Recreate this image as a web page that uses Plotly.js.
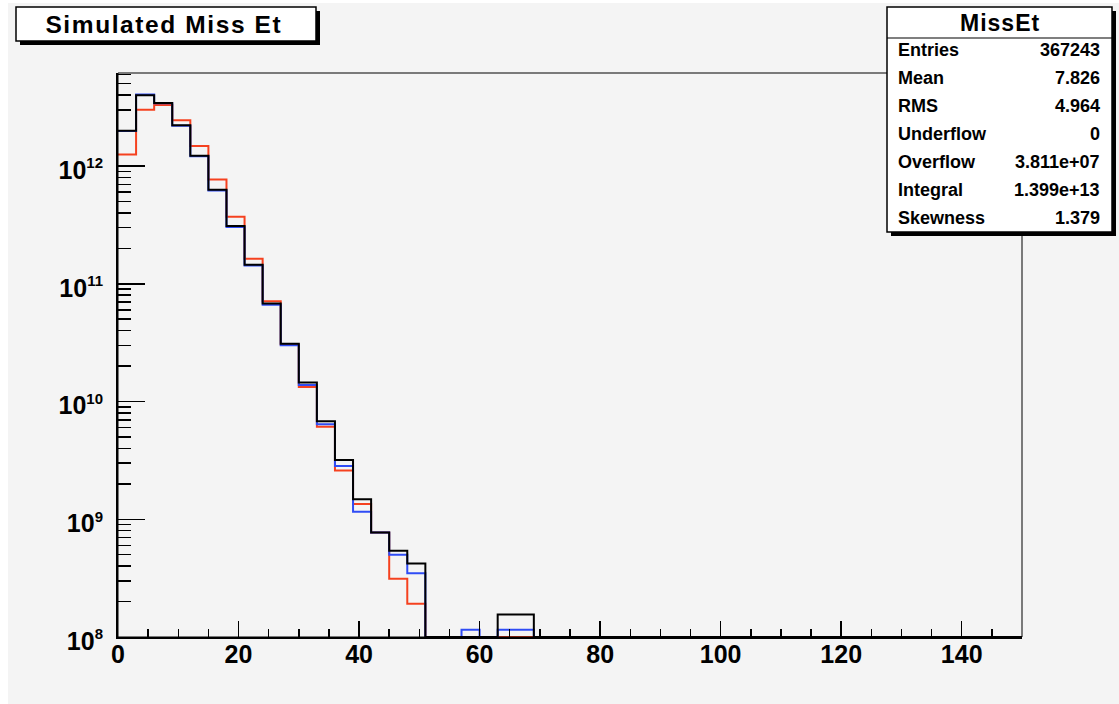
<!DOCTYPE html>
<html>
<head>
<meta charset="utf-8">
<script src="https://cdn.plot.ly/plotly-3.0.1.min.js"></script>
<style>
  html, body { margin: 0; padding: 0; background: #ffffff; }
  #chart { width: 1119px; height: 704px; }
  /* wide lettering of the pave titles */
  .annotation[data-index="0"] .annotation-text { letter-spacing: 1.6px; }
  .annotation[data-index="1"] .annotation-text { letter-spacing: 1px; }
</style>
</head>
<body>
<div id="chart"></div>
<script>
// Missing transverse energy, 50 bins of 3 GeV from 0 to 150
const binLow = 0;
const binWidth = 3;
const nBins = 50;

// Bin contents (weighted entries) for the three samples; 0 = empty bin
const countsRed = [
  1.25e12, 3.0e12, 3.29e12, 2.45e12, 1.48e12, 7.7e11, 3.7e11, 1.63e11, 7.1e10, 3.05e10,
  1.33e10, 6.1e9, 2.6e9, 1.35e9, 7.7e8, 3.13e8, 1.92e8, 0, 0, 0,
  0, 0, 0, 0, 0, 0, 0, 0, 0, 0,
  0, 0, 0, 0, 0, 0, 0, 0, 0, 0,
  0, 0, 0, 0, 0, 0, 0, 0, 0, 0
];
const countsBlue = [
  1.98e12, 4.05e12, 3.42e12, 2.2e12, 1.21e12, 6.2e11, 3.04e11, 1.43e11, 6.65e10, 3.01e10,
  1.38e10, 6.4e9, 2.83e9, 1.16e9, 7.7e8, 4.99e8, 3.48e8, 0, 0, 1.15e8,
  0, 1.15e8, 1.15e8, 0, 0, 0, 0, 0, 0, 0,
  0, 0, 0, 0, 0, 0, 0, 0, 0, 0,
  0, 0, 0, 0, 0, 0, 0, 0, 0, 0
];
const countsBlack = [
  1.99e12, 4.0e12, 3.43e12, 2.22e12, 1.22e12, 6.3e11, 3.1e11, 1.45e11, 6.8e10, 3.1e10,
  1.45e10, 6.8e9, 3.18e9, 1.48e9, 7.7e8, 5.4e8, 4.2e8, 0, 0, 0,
  0, 1.55e8, 1.55e8, 0, 0, 0, 0, 0, 0, 0,
  0, 0, 0, 0, 0, 0, 0, 0, 0, 0,
  0, 0, 0, 0, 0, 0, 0, 0, 0, 0
];

// Statistics box contents
const statsTitle = "MissEt";
const statsLabels = ["Entries", "Mean", "RMS", "Underflow", "Overflow", "Integral", "Skewness"];
const statsValues = ["367243", "7.826", "4.964", "0", "3.811e+07", "1.399e+13", "1.379"];

const chartTitle = "Simulated Miss Et";
const xTickVals = [0, 20, 40, 60, 80, 100, 120, 140];
const yDecades = [8, 9, 10, 11, 12];

// ---- geometry of the canvas ----
const W = 1119, H = 704;
const M = { l: 118, r: 97, t: 73, b: 67 };
const PW = W - M.l - M.r, PH = H - M.t - M.b;
const px = v => (v - M.l) / PW;          // pixel column -> paper x
const py = v => (H - M.b - v) / PH;      // pixel row -> paper y

const yMinLog = 8, yMaxLog = 12.79;
const floorValue = Math.pow(10, yMinLog); // empty bins sit on the frame bottom

const edges = [];
for (let i = 0; i <= nBins; i++) edges.push(binLow + i * binWidth);

function stepTrace(counts, color) {
  const y = counts.map(c => (c > 0 ? c : floorValue));
  y.push(y[y.length - 1]);
  return {
    type: "scatter", mode: "lines",
    x: edges, y: y,
    line: { shape: "hv", color: color, width: 2 },
    hoverinfo: "skip", showlegend: false
  };
}

const traces = [
  stepTrace(countsRed, "#f5411f"),
  stepTrace(countsBlue, "#2f4cf5"),
  stepTrace(countsBlack, "#000000")
];

const FONT = "Liberation Sans, Arial, Helvetica, sans-serif";

const shapes = [
  // grey canvas
  { type: "rect", xref: "paper", yref: "paper", layer: "below",
    x0: px(8), x1: px(W), y0: py(H), y1: py(3),
    fillcolor: "#f4f4f4", line: { width: 0 } },
  // frame
  { type: "rect", xref: "paper", yref: "paper", layer: "above",
    x0: 0, x1: 1, y0: 0, y1: 1, line: { color: "#000", width: 1 } },
  // title box shadow + box
  { type: "rect", xref: "paper", yref: "paper", layer: "above",
    x0: px(20), x1: px(320), y0: py(45), y1: py(11),
    fillcolor: "#000", line: { width: 0 } },
  { type: "rect", xref: "paper", yref: "paper", layer: "above",
    x0: px(16), x1: px(316), y0: py(41), y1: py(7),
    fillcolor: "#ffffff", line: { color: "#000", width: 1.5 } },
  // stats box shadow + box
  { type: "rect", xref: "paper", yref: "paper", layer: "above",
    x0: px(891), x1: px(1116), y0: py(236), y1: py(11),
    fillcolor: "#000", line: { width: 0 } },
  { type: "rect", xref: "paper", yref: "paper", layer: "above",
    x0: px(887), x1: px(1112), y0: py(232), y1: py(7),
    fillcolor: "#ffffff", line: { color: "#000", width: 1.5 } },
  { type: "line", xref: "paper", yref: "paper", layer: "above",
    x0: px(887), x1: px(1112), y0: py(38), y1: py(38),
    line: { color: "#000", width: 1.2 } }
];

const annotations = [
  { xref: "paper", yref: "paper", x: px(164), y: py(24.5), xanchor: "center", yanchor: "middle",
    text: chartTitle, showarrow: false,
    font: { family: FONT, size: 24.5, color: "#000", weight: "bold" } },
  { xref: "paper", yref: "paper", x: px(999.5), y: py(23.5), xanchor: "center", yanchor: "middle",
    text: statsTitle, showarrow: false,
    font: { family: FONT, size: 23, color: "#000", weight: "bold" } }
];
statsLabels.forEach((lab, i) => {
  const rowY = py(50 + i * 28.05);
  annotations.push({ xref: "paper", yref: "paper", x: px(896), y: rowY,
    xanchor: "left", yanchor: "middle", text: lab, showarrow: false,
    font: { family: FONT, size: 18, color: "#000", weight: "bold" } });
  annotations.push({ xref: "paper", yref: "paper", x: px(1102), y: rowY,
    xanchor: "right", yanchor: "middle", text: statsValues[i], showarrow: false,
    font: { family: FONT, size: 18, color: "#000", weight: "bold" } });
});

const layout = {
  width: W, height: H, autosize: false,
  margin: { l: M.l, r: M.r, t: M.t, b: M.b, pad: 0 },
  paper_bgcolor: "#ffffff",
  plot_bgcolor: "rgba(0,0,0,0)",
  showlegend: false,
  xaxis: {
    range: [0, 150], type: "linear",
    tickmode: "array", tickvals: xTickVals, ticktext: xTickVals.map(String),
    ticks: "inside", ticklen: 16, tickwidth: 1.5, tickcolor: "#000",
    minor: { ticks: "inside", dtick: 5, tick0: 0, ticklen: 8, tickwidth: 1.5, tickcolor: "#000", showgrid: false },
    showline: true, linecolor: "#000", linewidth: 2,
    showgrid: false, zeroline: false,
    tickfont: { family: FONT, size: 25, color: "#000", weight: "bold" },
    ticklabelstandoff: -6
  },
  yaxis: {
    type: "log", range: [yMinLog, yMaxLog],
    tickmode: "array",
    tickvals: yDecades.map(k => Math.pow(10, k)),
    ticktext: yDecades.map(k => '10<sup><span style="font-size:15px">' + k + '</span></sup>'),
    ticks: "inside", ticklen: 27, tickwidth: 1.5, tickcolor: "#000",
    minor: { ticks: "inside", dtick: "D1", ticklen: 13, tickwidth: 1.5, tickcolor: "#000", showgrid: false },
    showline: true, linecolor: "#000", linewidth: 2,
    showgrid: false, zeroline: false,
    tickfont: { family: FONT, size: 25, color: "#000", weight: "bold" },
    ticklabelstandoff: 8,
    ticklabelshift: 4
  },
  shapes: shapes,
  annotations: annotations
};

Plotly.newPlot("chart", traces, layout, { staticPlot: true, displayModeBar: false });
</script>
</body>
</html>
